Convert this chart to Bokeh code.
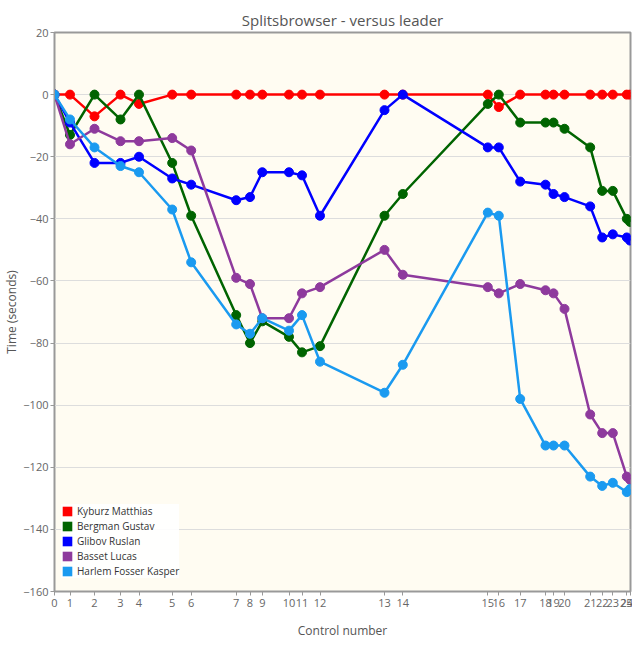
from bokeh.plotting import figure
from bokeh.models import (Range1d, FixedTicker, Legend, LegendItem, ColumnDataSource)
from bokeh.embed import file_html
from bokeh.resources import INLINE

# Leader's cumulative position of each control (x-axis), and control labels
control_labels = [str(i) for i in range(26)]
leader_time = [0, 15.5, 40, 66, 84.5, 117.7, 136.7, 181.7, 195.5, 207.8, 234.5, 247.5, 265.5,
               330, 348.3, 433.3, 444.3, 465.7, 491, 499, 510, 535.7, 547.7, 558.3, 572.3, 575.5]

names = ["Kyburz Matthias", "Bergman Gustav", "Glibov Ruslan", "Basset Lucas", "Harlem Fosser Kasper"]
colors = ["#ff0000", "#006400", "#0000ff", "#8e3a9d", "#1a9af0"]

kyburz = [0, 0, -7, 0, -3, 0, 0, 0, 0, 0, 0, 0, 0, 0, 0, 0, -4, 0, 0, 0, 0, 0, 0, 0, 0, 0]
bergman = [0, -13, 0, -8, 0, -22, -39, -71, -80, -73, -78, -83, -81, -39, -32, -3, 0, -9, -9, -9,
           -11, -17, -31, -31, -40, -41]
glibov = [0, -9, -22, -22, -20, -27, -29, -34, -33, -25, -25, -26, -39, -5, 0, -17, -17, -28, -29,
          -32, -33, -36, -46, -45, -46, -47]
basset = [0, -16, -11, -15, -15, -14, -18, -59, -61, -72, -72, -64, -62, -50, -58, -62, -64, -61,
          -63, -64, -69, -103, -109, -109, -123, -124]
harlem = [0, -8, -17, -23, -25, -37, -54, -74, -77, -72, -76, -71, -86, -96, -87, -38, -39, -98,
          -113, -113, -113, -123, -126, -125, -128, -127]
series = [kyburz, bergman, glibov, basset, harlem]

y_ticks = list(range(-160, 21, 20))

FONT = "Open Sans"

p = figure(frame_width=576, frame_height=559, output_backend="svg", toolbar_location=None,
           x_range=Range1d(0, 576), y_range=Range1d(-160, 20),
           title="Splitsbrowser - versus leader",
           min_border_left=40, min_border_right=2, min_border_top=32, min_border_bottom=40)

p.title.align = "center"
p.title.text_font = FONT
p.title.text_font_size = "15px"
p.title.text_font_style = "normal"
p.title.text_color = "#555555"
p.title.standoff = 6

p.background_fill_color = "#fffcf2"
p.border_fill_color = "white"
p.outline_line_color = "#999999"
p.outline_line_width = 2

p.xgrid.visible = False
p.ygrid.ticker = FixedTicker(ticks=y_ticks)
p.ygrid.grid_line_color = "#dddddd"
p.ygrid.grid_line_width = 1

p.xaxis.ticker = FixedTicker(ticks=leader_time)
p.xaxis.major_label_overrides = {t: lab for t, lab in zip(leader_time, control_labels)}
p.yaxis.ticker = FixedTicker(ticks=y_ticks)

for ax in (p.xaxis[0], p.yaxis[0]):
    ax.axis_line_color = "#999999"
    ax.major_tick_line_color = "#999999"
    ax.minor_tick_line_color = None
    ax.major_tick_out = 4
    ax.major_tick_in = 0
    ax.major_label_text_font = FONT
    ax.major_label_text_font_size = "11px"
    ax.major_label_text_color = "#666666"
    ax.axis_label_text_font = FONT
    ax.axis_label_text_font_size = "12px"
    ax.axis_label_text_font_style = "normal"
    ax.axis_label_text_color = "#555555"
    ax.major_label_standoff = 3

p.xaxis.axis_label = "Control number"
p.xaxis.axis_label_standoff = 12
p.yaxis.axis_label = "Time (seconds)"
p.yaxis.axis_label_standoff = 0
p.yaxis.major_label_standoff = 2

items = []
for name, col, vals in zip(names, colors, series):
    src = ColumnDataSource(dict(x=leader_time, y=vals))
    p.line("x", "y", source=src, line_color=col, line_width=2.5)
    p.scatter("x", "y", source=src, size=9, fill_color=col, line_color=col)
    # zero-area swatch at the start point, used only for the legend square
    sq = p.quad(left=[leader_time[0]], right=[leader_time[0]], top=[vals[0]], bottom=[vals[0]],
                fill_color=col, line_color=None)
    items.append(LegendItem(label=name, renderers=[sq]))

legend = Legend(items=items, location=(7, 13), glyph_width=12, glyph_height=12,
                label_height=12, spacing=1, padding=5, margin=0,
                label_text_font=FONT, label_text_font_size="10px", label_text_color="#333333",
                background_fill_color="white", background_fill_alpha=0.9,
                border_line_color=None, label_standoff=4)
p.add_layout(legend, "center")

open("out.html", "w").write(file_html(p, INLINE))
